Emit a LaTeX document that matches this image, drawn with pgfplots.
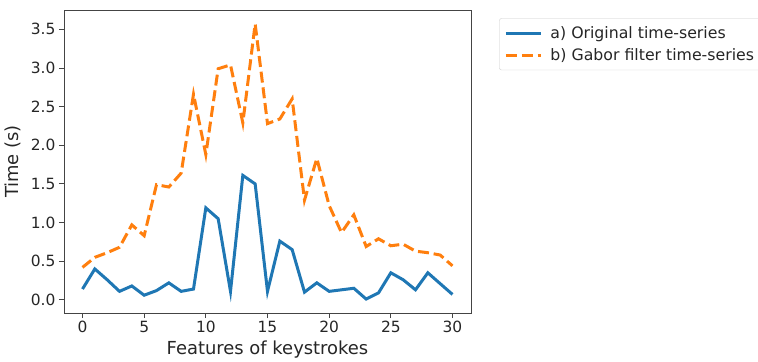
\documentclass[border=0pt]{standalone}
\usepackage{pgfplots}
\pgfplotsset{compat=1.18}
\usepackage{fontspec}
\setmainfont{DejaVu Sans}
\definecolor{cblue}{HTML}{1F77B4}
\definecolor{corange}{HTML}{FF7F0E}
\definecolor{frame}{HTML}{444444}
\begin{document}
\begin{tikzpicture}
\begin{axis}[
  scale only axis,
  width=407bp, height=303bp,
  xmin=-1.5, xmax=31.5,
  ymin=-0.17, ymax=3.75,
  xtick={0,5,10,15,20,25,30},
  ytick={0,0.5,1,1.5,2,2.5,3,3.5},
  yticklabel style={/pgf/number format/.cd, fixed, fixed zerofill, precision=1},
  /pgf/number format/assume math mode=true,
  tick align=outside,
  major tick length=5bp,
  tick style={frame, line width=0.9bp},
  xtick pos=bottom, ytick pos=left,
  axis line style={frame, line width=0.9bp},
  ticklabel style={font=\fontsize{15.5}{18}\selectfont, text=black!85},
  xlabel={Features of keystrokes},
  ylabel={Time (s)},
  label style={font=\fontsize{18}{21}\selectfont, text=black!85},
  xlabel style={at={(axis description cs:0.5,0)}, anchor=base, yshift=-41bp},
  ylabel style={at={(axis description cs:-0.1265,0.5)}, anchor=center},
  legend style={at={(1.0695,0.9726)}, anchor=north west, draw=black!20,
    rounded corners=2bp, font=\fontsize{15.8}{18}\selectfont, text=black!85,
    inner xsep=5bp, inner ysep=6bp, row sep=4.6bp},
  legend cell align=left,
  legend image code/.code={\draw[#1] (0bp,0bp) -- (35bp,0bp); \path (41bp,0bp);},
]
\addplot[cblue, line width=3bp] coordinates {
(0,0.14) (1,0.40) (2,0.26) (3,0.11) (4,0.18) (5,0.06) (6,0.12) (7,0.22)
(8,0.11) (9,0.14) (10,1.19) (11,1.05) (12,0.11) (13,1.61) (14,1.50) (15,0.11)
(16,0.76) (17,0.65) (18,0.10) (19,0.22) (20,0.11) (21,0.13) (22,0.15) (23,0.01)
(24,0.09) (25,0.35) (26,0.26) (27,0.13) (28,0.35) (29,0.21) (30,0.07)};
\addlegendentry{a) Original time-series}
\addplot[corange, line width=3bp, dash pattern=on 11bp off 4.8bp] coordinates {
(0,0.42) (1,0.55) (2,0.61) (3,0.68) (4,0.97) (5,0.83) (6,1.49) (7,1.46)
(8,1.64) (9,2.66) (10,1.88) (11,2.99) (12,3.04) (13,2.29) (14,3.57) (15,2.28)
(16,2.34) (17,2.60) (18,1.29) (19,1.83) (20,1.22) (21,0.87) (22,1.10) (23,0.69)
(24,0.79) (25,0.70) (26,0.72) (27,0.63) (28,0.61) (29,0.58) (30,0.44)};
\addlegendentry{b) Gabor filter time-series}
\end{axis}
\pgfresetboundingbox
\useasboundingbox (-64bp,-49bp) rectangle (694bp,313bp);
\end{tikzpicture}
\end{document}
